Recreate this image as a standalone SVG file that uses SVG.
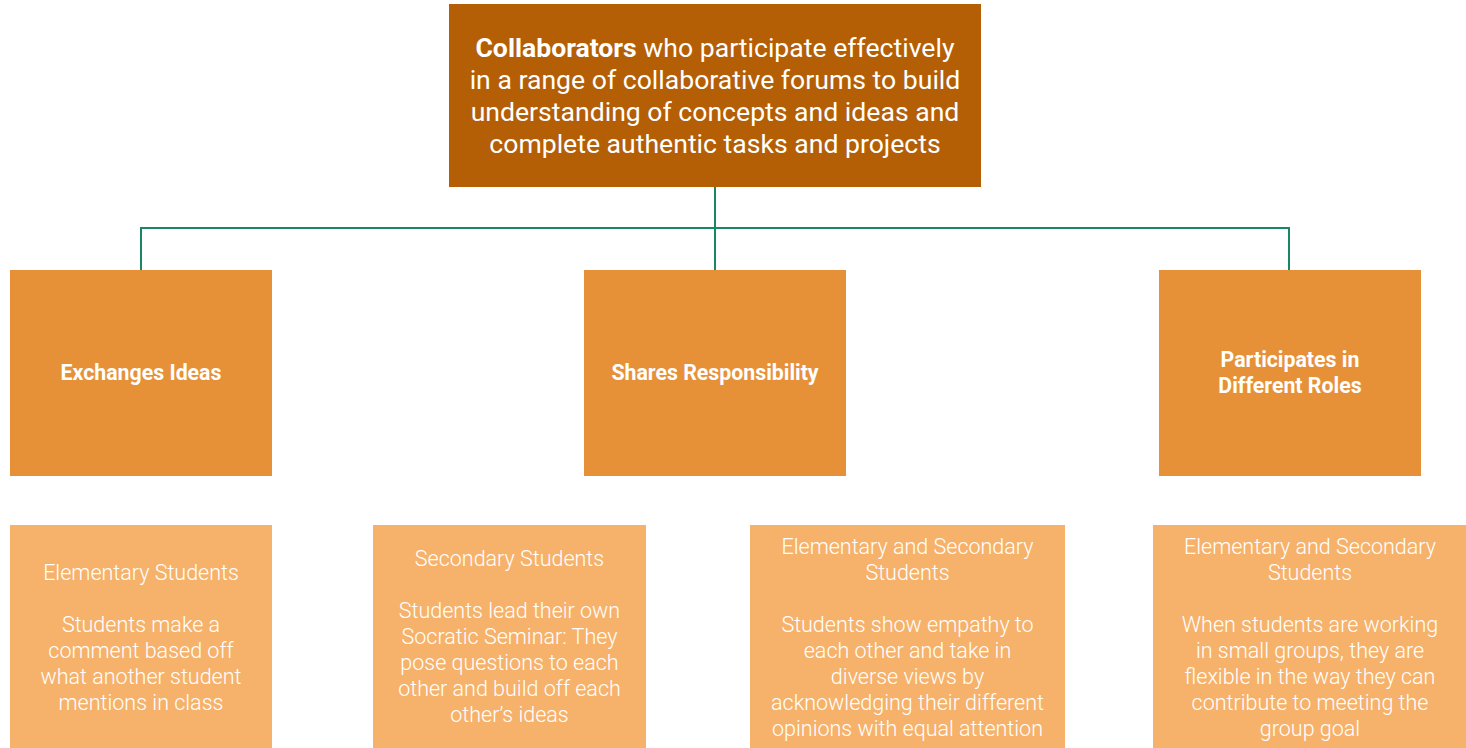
<svg xmlns="http://www.w3.org/2000/svg" width="1466" height="748" viewBox="0 0 1466 748">
<style>
.top{fill:#B45F06}
.mid{fill:#E69138}
.bot{fill:#F6B26B}
.t{font-family:Roboto,"Liberation Sans",sans-serif;fill:#FFFFFF;text-anchor:middle}
.tt{font-size:26.6px;font-weight:400}
.mt{font-size:21.3px;font-weight:700}
.bt{font-size:21.5px;font-weight:300}
.conn{fill:none;stroke:#1A8763;stroke-width:2}
</style>
<rect width="1466" height="748" fill="#FFFFFF"/>
<g id="connectors">
<path class="conn" d="M715 187 V228 M141 270 V228 H1289 V270 M715 228 V270"/>
</g>
<g id="root">
<rect class="top" x="449" y="4" width="532" height="183"/>
<text class="t tt" x="715" y="57"><tspan font-weight="700">Collaborators</tspan> who participate effectively</text>
<text class="t tt" x="715" y="89">in a range of collaborative forums to build</text>
<text class="t tt" x="715" y="121">understanding of concepts and ideas and</text>
<text class="t tt" x="715" y="153">complete authentic tasks and projects</text>
</g>
<g id="exchanges">
<rect class="mid" x="10" y="270" width="262" height="206"/>
<text class="t mt" x="141" y="380">Exchanges Ideas</text>
</g>
<g id="shares">
<rect class="mid" x="584" y="270" width="262" height="206"/>
<text class="t mt" x="715" y="380">Shares Responsibility</text>
</g>
<g id="participates">
<rect class="mid" x="1159" y="270" width="262" height="206"/>
<text class="t mt" x="1290" y="367">Participates in</text>
<text class="t mt" x="1290" y="393">Different Roles</text>
</g>
<g id="elementary">
<rect class="bot" x="10" y="525" width="262" height="223"/>
<text class="t bt" x="141" y="580">Elementary Students</text>
<text class="t bt" x="141" y="632">Students make a</text>
<text class="t bt" x="141" y="658">comment based off</text>
<text class="t bt" x="141" y="684">what another student</text>
<text class="t bt" x="141" y="710">mentions in class</text>
</g>
<g id="secondary">
<rect class="bot" x="373" y="525" width="273" height="223"/>
<text class="t bt" x="509.5" y="566">Secondary Students</text>
<text class="t bt" x="509.5" y="618">Students lead their own</text>
<text class="t bt" x="509.5" y="644">Socratic Seminar: They</text>
<text class="t bt" x="509.5" y="670">pose questions to each</text>
<text class="t bt" x="509.5" y="696">other and build off each</text>
<text class="t bt" x="509.5" y="722">other’s ideas</text>
</g>
<g id="both1">
<rect class="bot" x="750" y="525" width="315" height="223"/>
<text class="t bt" x="907.5" y="554">Elementary and Secondary</text>
<text class="t bt" x="907.5" y="580">Students</text>
<text class="t bt" x="907.5" y="632">Students show empathy to</text>
<text class="t bt" x="907.5" y="658">each other and take in</text>
<text class="t bt" x="907.5" y="684">diverse views by</text>
<text class="t bt" x="907.5" y="710">acknowledging their different</text>
<text class="t bt" x="907.5" y="736">opinions with equal attention</text>
</g>
<g id="both2">
<rect class="bot" x="1153" y="525" width="313" height="223"/>
<text class="t bt" x="1310" y="554">Elementary and Secondary</text>
<text class="t bt" x="1310" y="580">Students</text>
<text class="t bt" x="1310" y="632">When students are working</text>
<text class="t bt" x="1310" y="658">in small groups, they are</text>
<text class="t bt" x="1310" y="684">flexible in the way they can</text>
<text class="t bt" x="1310" y="710">contribute to meeting the</text>
<text class="t bt" x="1310" y="736">group goal</text>
</g>
</svg>
